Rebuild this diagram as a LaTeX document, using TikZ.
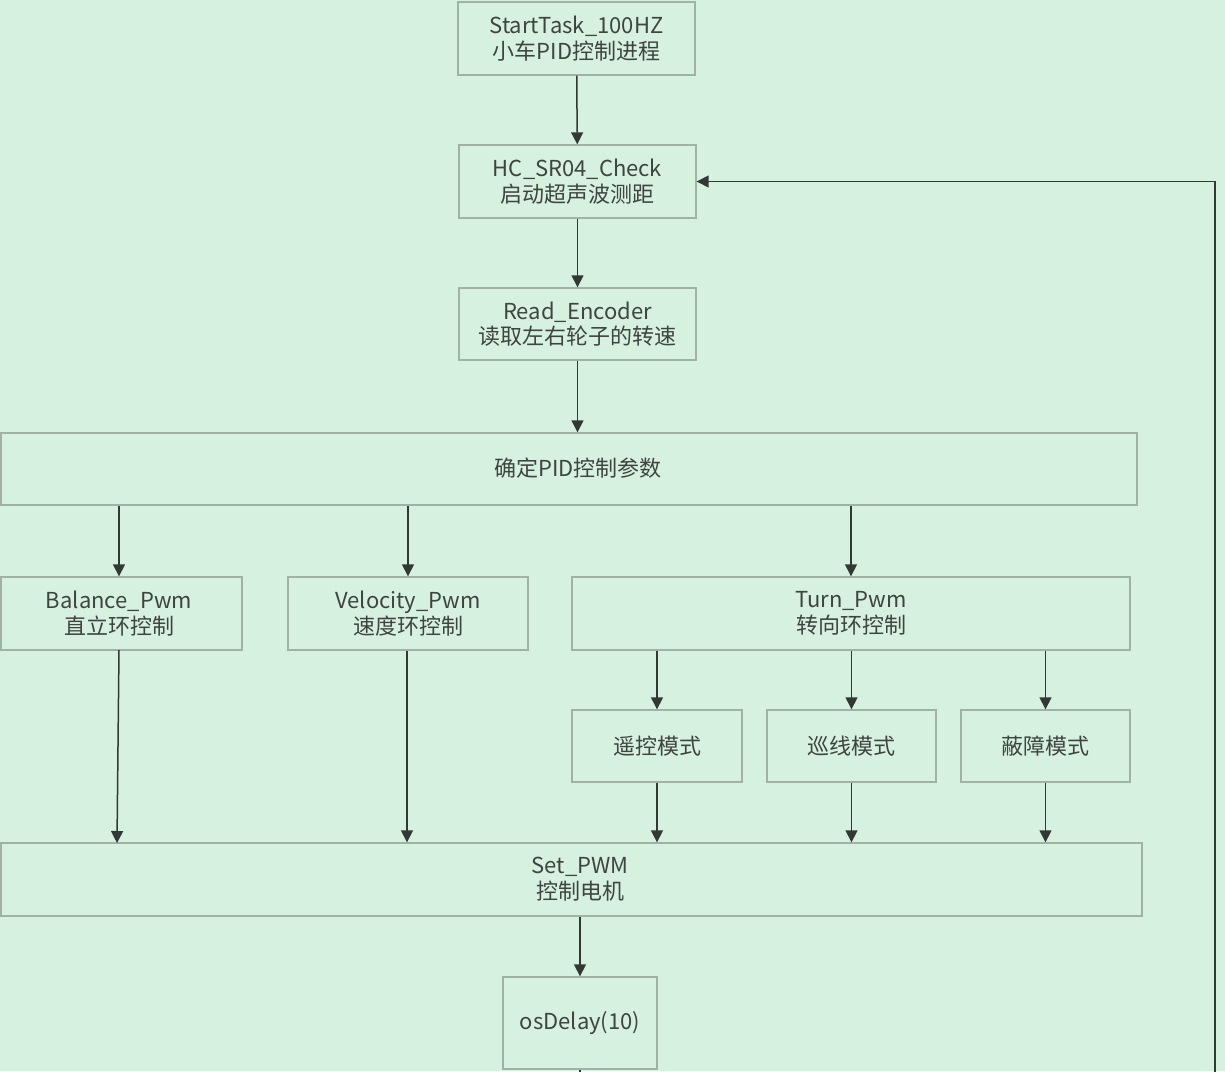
\documentclass[tikz,border=0pt]{standalone}
\usepackage{fontspec}
\setmainfont{Noto Sans CJK SC}
\usetikzlibrary{arrows.meta}
\definecolor{bgc}{RGB}{215,241,224}
\definecolor{bdc}{RGB}{160,178,166}
\definecolor{txc}{RGB}{62,68,64}
\definecolor{arc}{RGB}{50,56,52}
\tikzset{
  tfont/.style={font=\fontsize{22}{25.5}\selectfont},
  box/.style={draw=bdc, line width=1.4pt, fill=bgc, rectangle, inner sep=0pt, align=center,
    text=txc, tfont},
  lbl/.style={text=txc, tfont, align=center},
  conn/.style={draw=arc, line width=1.5pt, -{Triangle[length=12pt,width=12pt]}},
}
\begin{document}
\begin{tikzpicture}[x=1pt,y=-1pt]
\useasboundingbox (0,0) rectangle (1225,1071);
\fill[bgc] (0,0) rectangle (1225,1071);
\clip (0,0) rectangle (1225,1071);
% boxes: center, width, height
\node[box, minimum width=237pt, minimum height=73pt] (st) at (576.5,38.5) {StartTask\_100HZ\\小车PID控制进程};
\node[box, minimum width=237pt, minimum height=73pt] (hc) at (577.5,181.5) {HC\_SR04\_Check\\启动超声波测距};
\node[box, minimum width=237pt, minimum height=72pt] (re) at (577.5,324) {Read\_Encoder\\读取左右轮子的转速};
\node[box, minimum width=1136pt, minimum height=72pt] (pid) at (569,469) {};
\node[lbl] (pidt) at (578,468) {确定PID控制参数};
\node[box, minimum width=241pt, minimum height=73pt] (bal) at (121.5,613.5) {};
\node[lbl] (balt) at (119,613.5) {Balance\_Pwm\\直立环控制};
\node[box, minimum width=240pt, minimum height=73pt] (vel) at (408,613.5) {Velocity\_Pwm\\速度环控制};
\node[box, minimum width=558pt, minimum height=73pt] (turn) at (851,613.5) {Turn\_Pwm\\转向环控制};
\node[box, minimum width=170pt, minimum height=72pt] (m1) at (657,746) {遥控模式};
\node[box, minimum width=169pt, minimum height=72pt] (m2) at (851.5,746) {巡线模式};
\node[box, minimum width=169pt, minimum height=72pt] (m3) at (1045.5,746) {蔽障模式};
\node[box, minimum width=1141pt, minimum height=73pt] (set) at (571.5,879.5) {};
\node[lbl] (sett) at (580,879) {Set\_PWM\\控制电机};
\node[box, minimum width=154pt, minimum height=92pt] (osd) at (580,1023) {osDelay(10)};
% connectors
\draw[conn] (st) -- (hc);
\draw[conn] (hc) -- (re);
\draw[conn] (re.south) -- (re.south |- pid.north);
\draw[conn] (pid.south -| bal.center) ++(-2.5,0) coordinate (b0) -- (b0 |- bal.north);
\draw[conn] (pid.south -| vel.center) -- (vel.north);
\draw[conn] (pid.south -| turn.center) -- (turn.north);
\draw[conn] (turn.south -| m1.north) -- (m1.north);
\draw[conn] (turn.south -| m2.north) -- (m2.north);
\draw[conn] (turn.south -| m3.north) -- (m3.north);
\coordinate (b1) at (119,650);
\coordinate (b2) at (117,843);
\draw[conn] (b1) -- (b2);
\draw[conn] (vel.south) ++(-1,0) coordinate (v1) -- (v1 |- set.north);
\draw[conn] (m1.south) -- (m1.south |- set.north);
\draw[conn] (m2.south) -- (m2.south |- set.north);
\draw[conn] (m3.south) -- (m3.south |- set.north);
\draw[conn] (set.south -| osd.north) -- (osd.north);
\coordinate (fb1) at (580,1100);
\coordinate (fb2) at (1215,1100);
\draw[conn] (osd.south) -- (fb1) -- (fb2) |- (hc.east);
\end{tikzpicture}
\end{document}
